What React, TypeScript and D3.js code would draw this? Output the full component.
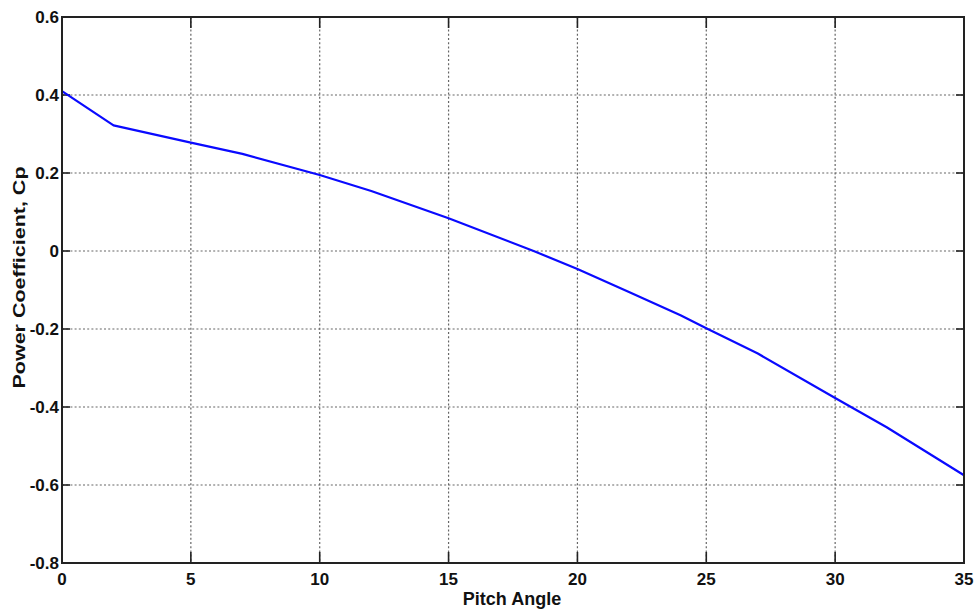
import React from "react";
import * as d3 from "d3";

const pitch = [0, 2, 5, 7, 10, 12, 15, 18.3, 20, 22, 24, 25, 27, 30, 32, 35];
const cp = [0.41, 0.322, 0.278, 0.249, 0.195, 0.154, 0.084, 0, -0.046, -0.105, -0.165, -0.198, -0.263, -0.377, -0.452, -0.575];
const xTicks = [0, 5, 10, 15, 20, 25, 30, 35];
const yTicks = [0.6, 0.4, 0.2, 0, -0.2, -0.4, -0.6, -0.8];
const xLabel = "Pitch Angle";
const yLabel = "Power Coefficient, Cp";

const W = 979;
const H = 614;
const L = 62, R = 964, T = 17, B = 563;
const font = "'Liberation Sans Narrow', 'Liberation Sans', Arial, sans-serif";

export default function App() {
  const x = d3.scaleLinear().domain([0, 35]).range([L, R]);
  const y = d3.scaleLinear().domain([-0.8, 0.6]).range([B, T]);
  const line = d3
    .line<number>()
    .x((_, i) => x(pitch[i]))
    .y((d) => y(d));
  const fmt = (v: number) => (v === 0 ? "0" : String(v));
  return (
    <svg
      width={W}
      height={H}
      style={{ position: "absolute", left: 0, top: 0, background: "#fff" }}
    >
      <rect x={0} y={0} width={W} height={H} fill="#fff" />
      {xTicks.slice(1, -1).map((t) => (
        <line key={"gx" + t} x1={x(t)} x2={x(t)} y1={T} y2={B} stroke="#666" strokeWidth={1.2} strokeDasharray="2,2.2" />
      ))}
      {yTicks.slice(1, -1).map((t) => (
        <line key={"gy" + t} x1={L} x2={R} y1={y(t)} y2={y(t)} stroke="#666" strokeWidth={1.2} strokeDasharray="2,2.2" />
      ))}
      {xTicks.map((t) => (
        <g key={"tx" + t}>
          <line x1={x(t)} x2={x(t)} y1={B} y2={B - 11} stroke="#222" strokeWidth={1.6} />
          <line x1={x(t)} x2={x(t)} y1={T} y2={T + 11} stroke="#222" strokeWidth={1.6} />
        </g>
      ))}
      {yTicks.map((t) => (
        <g key={"ty" + t}>
          <line x1={L} x2={L + 8} y1={y(t)} y2={y(t)} stroke="#222" strokeWidth={1.6} />
          <line x1={R} x2={R - 8} y1={y(t)} y2={y(t)} stroke="#222" strokeWidth={1.6} />
        </g>
      ))}
      <path d={line(cp) || ""} fill="none" stroke="#0a0aff" strokeWidth={2.2} strokeLinejoin="round" />
      <rect x={L} y={T} width={R - L} height={B - T} fill="none" stroke="#222" strokeWidth={2} />
      {xTicks.map((t) => (
        <text key={"lx" + t} x={x(t)} y={585} textAnchor="middle" fontFamily={font} fontWeight="bold" fontSize={17} fill="#111">
          {fmt(t)}
        </text>
      ))}
      {yTicks.map((t) => (
        <text key={"ly" + t} x={59} y={y(t) + 6} textAnchor="end" fontFamily={font} fontWeight="bold" fontSize={17} fill="#111">
          {fmt(t)}
        </text>
      ))}
      <text x={512} y={605} textAnchor="middle" fontFamily={font} fontWeight="bold" fontSize={18} fill="#111">
        {xLabel}
      </text>
      <text
        transform={`translate(25,${(165 + 390) / 2}) rotate(-90)`}
        textAnchor="middle"
        fontFamily="'Liberation Sans', Arial, sans-serif"
        fontWeight="bold"
        fontSize={17}
        textLength={222}
        lengthAdjust="spacingAndGlyphs"
        fill="#111"
      >
        {yLabel}
      </text>
    </svg>
  );
}
